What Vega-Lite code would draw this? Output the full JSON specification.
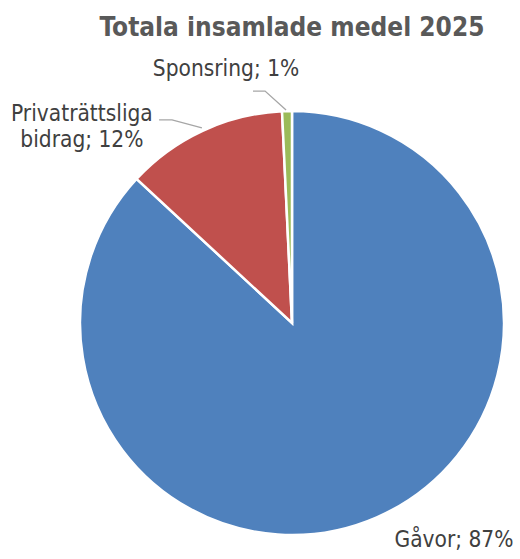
{
  "$schema": "https://vega.github.io/schema/vega-lite/v6.json",
  "width": 424,
  "height": 424,
  "autosize": {"type": "none"},
  "padding": {"left": 80, "top": 111, "right": 16, "bottom": 24},
  "background": "white",
  "title": {
    "text": "Totala insamlade medel 2025",
    "font": "DejaVu Sans Condensed",
    "fontSize": 26,
    "fontWeight": "bold",
    "color": "#595959",
    "anchor": "middle",
    "frame": "group",
    "baseline": "alphabetic",
    "offset": 23,
    "dy": 27
  },
  "config": {"view": {"stroke": null}},
  "layer": [
    {
      "data": {"values": [
        {"name": "Gåvor", "value": 86.9, "ord": 1},
        {"name": "Privaträttsliga bidrag", "value": 12.35, "ord": 2},
        {"name": "Sponsring", "value": 0.75, "ord": 3}
      ]},
      "mark": {"type": "arc", "stroke": "white", "strokeWidth": 2.5},
      "encoding": {
        "theta": {"field": "value", "type": "quantitative", "stack": true},
        "order": {"field": "ord", "type": "quantitative"},
        "color": {
          "field": "name", "type": "nominal", "legend": null,
          "scale": {"domain": ["Gåvor", "Privaträttsliga bidrag", "Sponsring"], "range": ["#4F81BD", "#C0504D", "#9BBB59"]}
        }
      }
    },
    {
      "data": {"values": [
        {"name": "Sponsring", "ord": 1, "lx": -0.184, "ly": 1.094},
        {"name": "Sponsring", "ord": 2, "lx": -0.127, "ly": 1.094},
        {"name": "Sponsring", "ord": 3, "lx": -0.028, "ly": 1.005},
        {"name": "Privat", "ord": 1, "lx": -0.627, "ly": 0.958},
        {"name": "Privat", "ord": 2, "lx": -0.566, "ly": 0.958},
        {"name": "Privat", "ord": 3, "lx": -0.425, "ly": 0.92}
      ]},
      "mark": {"type": "line", "color": "#A6A6A6", "strokeWidth": 1.3},
      "encoding": {
        "x": {"field": "lx", "type": "quantitative", "scale": {"domain": [-1, 1], "nice": false, "zero": false}, "axis": null},
        "y": {"field": "ly", "type": "quantitative", "scale": {"domain": [-1, 1], "nice": false, "zero": false}, "axis": null},
        "detail": {"field": "name"},
        "order": {"field": "ord", "type": "quantitative"}
      }
    },
    {
      "data": {"values": [
        {"label": "Sponsring; 1%", "tx": -0.311, "ty": 1.165},
        {"label": "Privaträttsliga\nbidrag; 12%", "tx": -0.991, "ty": 0.953},
        {"label": "Gåvor; 87%", "tx": 0.764, "ty": -1.057}
      ]},
      "mark": {"type": "text", "font": "DejaVu Sans Condensed", "fontSize": 22.5, "color": "#404040", "align": "center", "baseline": "alphabetic", "lineBreak": "\n", "lineHeight": 26.5},
      "encoding": {
        "x": {"field": "tx", "type": "quantitative", "scale": {"domain": [-1, 1], "nice": false, "zero": false}, "axis": null},
        "y": {"field": "ty", "type": "quantitative", "scale": {"domain": [-1, 1], "nice": false, "zero": false}, "axis": null},
        "text": {"field": "label"}
      }
    }
  ]
}
